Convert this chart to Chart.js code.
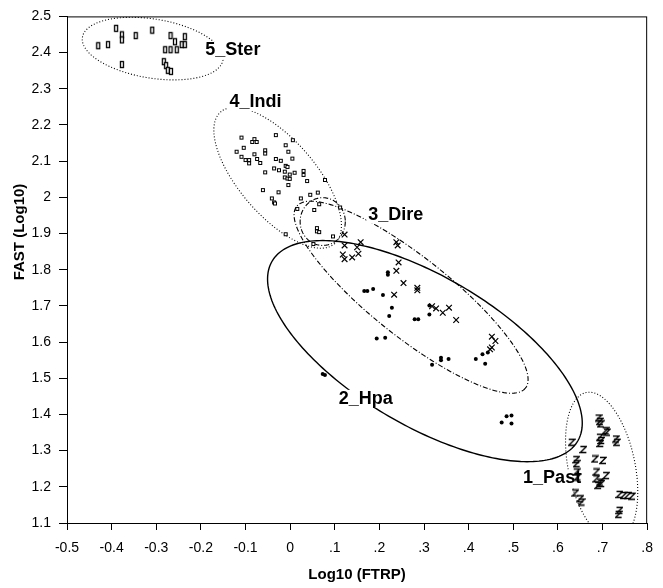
<!DOCTYPE html>
<html>
<head>
<meta charset="utf-8">
<script src="https://cdn.jsdelivr.net/npm/chart.js@4/dist/chart.umd.min.js"></script>
<style>
  html, body { margin: 0; padding: 0; background: #fff; }
  #wrap { width: 663px; height: 588px; }
</style>
</head>
<body>
<div id="wrap"><canvas id="myChart" width="663" height="588"></canvas></div>
<script>
// group values: Log10(FTRP) on x, FAST (Log10) on y
const sterX = [-0.390, -0.377, -0.377, -0.346, -0.309, -0.430, -0.408, -0.268, -0.258, -0.236, -0.243, -0.236, -0.280, -0.268, -0.254, -0.377, -0.283, -0.278, -0.274, -0.267];
const sterY = [2.467, 2.449, 2.435, 2.447, 2.462, 2.419, 2.422, 2.447, 2.430, 2.444, 2.422, 2.422, 2.408, 2.408, 2.408, 2.367, 2.375, 2.364, 2.351, 2.348];

const indiX = [-0.109, -0.085, -0.080, -0.075, -0.032, -0.104, -0.010, 0.006, -0.120, -0.056, -0.056, -0.004, -0.109, -0.100, -0.092, -0.092, -0.080, -0.074, -0.067, -0.032, -0.021, 0.005, -0.036, -0.025, -0.010, -0.006, -0.012, 0.010, -0.001, -0.012, -0.006, -0.001, 0.030, 0.030, 0.038, -0.056, -0.004, 0.078, -0.061, -0.026, -0.041, -0.036, -0.034, 0.024, 0.045, 0.062, 0.016, 0.054, 0.065, 0.112, 0.060, 0.060, 0.065, -0.010, 0.052, 0.096];
const indiY = [2.165, 2.153, 2.161, 2.153, 2.172, 2.137, 2.144, 2.158, 2.126, 2.130, 2.121, 2.126, 2.112, 2.103, 2.103, 2.094, 2.119, 2.106, 2.095, 2.106, 2.101, 2.107, 2.080, 2.075, 2.087, 2.084, 2.071, 2.068, 2.063, 2.055, 2.052, 2.051, 2.073, 2.062, 2.045, 2.069, 2.034, 2.048, 2.020, 2.014, 1.997, 1.986, 1.983, 1.997, 2.007, 2.013, 1.968, 1.965, 1.981, 1.972, 1.915, 1.906, 1.904, 1.898, 1.871, 1.892];

const direX = [0.122, 0.122, 0.150, 0.158, 0.118, 0.122, 0.139, 0.153, 0.238, 0.241, 0.243, 0.238, 0.254, 0.285, 0.285, 0.233, 0.318, 0.327, 0.342, 0.356, 0.372, 0.452, 0.460, 0.452, 0.448];
const direY = [1.897, 1.867, 1.862, 1.876, 1.842, 1.829, 1.834, 1.844, 1.876, 1.867, 1.820, 1.797, 1.763, 1.750, 1.743, 1.731, 1.699, 1.693, 1.681, 1.695, 1.661, 1.615, 1.603, 1.585, 1.580];

const hpaX = [0.166, 0.173, 0.186, 0.208, 0.219, 0.219, 0.228, 0.222, 0.194, 0.213, 0.279, 0.287, 0.312, 0.312, 0.338, 0.338, 0.355, 0.318, 0.416, 0.431, 0.437, 0.443, 0.474, 0.485, 0.496, 0.496, 0.073, 0.078];
const hpaY = [1.741, 1.741, 1.747, 1.730, 1.793, 1.786, 1.695, 1.672, 1.610, 1.612, 1.663, 1.663, 1.701, 1.676, 1.557, 1.550, 1.553, 1.537, 1.553, 1.566, 1.540, 1.571, 1.378, 1.395, 1.397, 1.375, 1.512, 1.509];

const pastX = [0.691, 0.694, 0.696, 0.707, 0.710, 0.694, 0.697, 0.695, 0.730, 0.732, 0.631, 0.657, 0.641, 0.642, 0.683, 0.701, 0.642, 0.686, 0.708, 0.686, 0.694, 0.690, 0.697, 0.644, 0.639, 0.650, 0.653, 0.738, 0.747, 0.756, 0.766, 0.738, 0.736];
const pastY = [1.390, 1.381, 1.374, 1.355, 1.351, 1.337, 1.328, 1.320, 1.332, 1.323, 1.323, 1.303, 1.275, 1.264, 1.277, 1.273, 1.241, 1.241, 1.231, 1.222, 1.213, 1.204, 1.209, 1.227, 1.183, 1.167, 1.158, 1.179, 1.176, 1.176, 1.174, 1.135, 1.124];

const groupNames = ["5_Ster", "4_Indi", "3_Dire", "2_Hpa", "1_Past"];
const labelX = [-0.190, -0.136, 0.175, 0.109, 0.522];
const labelY = [2.406, 2.263, 1.952, 1.443, 1.223];

const xTicks = [-0.5, 0.8, 0.1];  // min, max, step
const yTicks = [1.1, 2.5, 0.1];
const yTitle = "FAST (Log10)";

// ellipses in data units: centre + two conjugate half-axes
const ellipses = [
  { cx: -0.308, cy: 2.411, ux: 0.1575, uy: -0.0312, vx: -0.0102, vy: -0.0807, dash: [1, 2] },
  { cx: -0.028, cy: 2.054, ux: 0.1280, uy: -0.1816, vx: -0.0636, vy: -0.0699, dash: [1, 2] },
  { cx: 0.073, cy: 1.933, ux: 0.0506, uy: 0, vx: 0, vy: -0.066, dash: [5, 2, 1, 2] },
  { cx: 0.271, cy: 1.724, ux: 0.2565, uy: -0.2508, vx: -0.0542, vy: -0.0868, dash: [5, 2, 1, 2] },
  { cx: 0.302, cy: 1.575, ux: 0.3428, uy: -0.2477, vx: -0.0825, vy: -0.1789, dash: [], width: 1.4 },
  { cx: 0.698, cy: 1.256, ux: 0.0347, uy: -0.2045, vx: -0.0731, vy: -0.0195, dash: [1, 2] },
];

function pts(xs, ys) {
  return xs.map((x, i) => ({ x: x, y: ys[i] }));
}

function makeMarker(w, h, draw) {
  const c = document.createElement("canvas");
  c.width = w;
  c.height = h;
  const g = c.getContext("2d");
  g.strokeStyle = "#000";
  g.fillStyle = "#fff";
  draw(g);
  return c;
}

const sterMark = makeMarker(6, 9, (g) => {
  g.lineWidth = 1.3;
  g.fillRect(1.5, 1.5, 3, 6);
  g.strokeRect(1.5, 1.5, 3, 6);
});
const indiMark = makeMarker(6, 6, (g) => {
  g.lineWidth = 1;
  g.fillRect(1.5, 1.5, 3, 3);
  g.strokeRect(1.5, 1.5, 3, 3);
});
const pastMark = makeMarker(8, 9, (g) => {
  g.lineWidth = 1.3;
  g.beginPath();
  g.moveTo(1, 1.5);
  g.lineTo(7, 1.5);
  g.lineTo(1, 7.5);
  g.lineTo(7, 7.5);
  g.stroke();
});

const ellipsePlugin = {
  id: "ellipses",
  beforeDatasetsDraw(chart) {
    const { ctx, chartArea, scales } = chart;
    const xs = scales.x, ys = scales.y;
    ctx.save();
    ctx.beginPath();
    ctx.rect(chartArea.left, chartArea.top, chartArea.right - chartArea.left, chartArea.bottom - chartArea.top);
    ctx.clip();
    ctx.strokeStyle = "#000";
    ellipses.forEach((e) => {
      ctx.lineWidth = e.width || 1.1;
      ctx.setLineDash(e.dash);
      ctx.beginPath();
      for (let i = 0; i <= 240; i++) {
        const t = (i / 240) * Math.PI * 2;
        const px = xs.getPixelForValue(e.cx + e.ux * Math.cos(t) + e.vx * Math.sin(t));
        const py = ys.getPixelForValue(e.cy + e.uy * Math.cos(t) + e.vy * Math.sin(t));
        if (i === 0) ctx.moveTo(px, py);
        else ctx.lineTo(px, py);
      }
      ctx.stroke();
    });
    ctx.setLineDash([]);
    // group labels on a white ground
    ctx.font = "bold 18px 'Liberation Sans', Arial, sans-serif";
    ctx.textBaseline = "middle";
    groupNames.forEach((name, i) => {
      const px = xs.getPixelForValue(labelX[i]);
      const py = ys.getPixelForValue(labelY[i]);
      const w = ctx.measureText(name).width;
      ctx.fillStyle = "#fff";
      ctx.fillRect(px - 2, py - 9, w + 4, 18);
      ctx.fillStyle = "#000";
      ctx.fillText(name, px, py);
    });
    ctx.restore();
  },
  afterDraw(chart) {
    const { ctx, chartArea } = chart;
    ctx.save();
    ctx.strokeStyle = "#000";
    ctx.lineWidth = 1;
    ctx.strokeRect(chartArea.left + 0.5, chartArea.top + 0.5, chartArea.right - chartArea.left - 1, chartArea.bottom - chartArea.top);
    // y title sits above the middle of the axis, as in the original
    ctx.translate(20, 232);
    ctx.rotate(-Math.PI / 2);
    ctx.font = "bold 15px 'Liberation Sans', Arial, sans-serif";
    ctx.fillStyle = "#000";
    ctx.textAlign = "center";
    ctx.textBaseline = "middle";
    ctx.fillText(yTitle, 0, 0);
    ctx.restore();
  },
};

Chart.defaults.font.family = "'Liberation Sans', Arial, sans-serif";
Chart.defaults.color = "#000";

const tickFont = { size: 14 };

const config = {
  type: "scatter",
  data: {
    datasets: [
      { label: groupNames[0], data: pts(sterX, sterY), pointStyle: sterMark },
      { label: groupNames[1], data: pts(indiX, indiY), pointStyle: indiMark },
      { label: groupNames[2], data: pts(direX, direY), pointStyle: "crossRot", radius: 4, borderWidth: 1.2, borderColor: "#000" },
      { label: groupNames[3], data: pts(hpaX, hpaY), pointStyle: "circle", radius: 2, borderWidth: 0, backgroundColor: "#000" },
      { label: groupNames[4], data: pts(pastX, pastY), pointStyle: pastMark },
    ],
  },
  options: {
    responsive: false,
    animation: false,
    events: [],
    layout: { padding: { top: 14, right: 5, left: 0, bottom: 0 } },
    plugins: {
      legend: { display: false },
      tooltip: { enabled: false },
    },
    scales: {
      x: {
        type: "linear",
        min: xTicks[0],
        max: xTicks[1],
        afterFit: (s) => { s.height = 65; },
        ticks: {
          stepSize: xTicks[2],
          maxTicksLimit: 30,
          autoSkip: false,
          maxRotation: 0,
          padding: 10,
          font: tickFont,
          callback: (v) => {
            const r = Math.round(v * 10) / 10;
            if (r === 0) return "0";
            return r < 0 ? r.toFixed(1) : r.toFixed(1).replace(/^0/, "");
          },
        },
        grid: { drawOnChartArea: false, drawTicks: true, tickLength: 7, color: "#000" },
        border: { display: true, color: "#000", width: 1 },
        title: { display: true, text: "Log10 (FTRP)", font: { size: 15, weight: "bold" }, padding: { top: 4, bottom: 4 } },
      },
      y: {
        type: "linear",
        min: yTicks[0],
        max: yTicks[1],
        afterFit: (s) => { s.width = 67; },
        ticks: {
          stepSize: yTicks[2],
          maxTicksLimit: 30,
          autoSkip: false,
          padding: 8,
          font: tickFont,
          callback: (v) => String(Math.round(v * 10) / 10),
        },
        grid: { drawOnChartArea: false, drawTicks: true, tickLength: 8, color: "#000" },
        border: { display: true, color: "#000", width: 1 },
        title: { display: false },
      },
    },
  },
  plugins: [ellipsePlugin],
};

const myChart = new Chart(document.getElementById("myChart"), config);
</script>
</body>
</html>
